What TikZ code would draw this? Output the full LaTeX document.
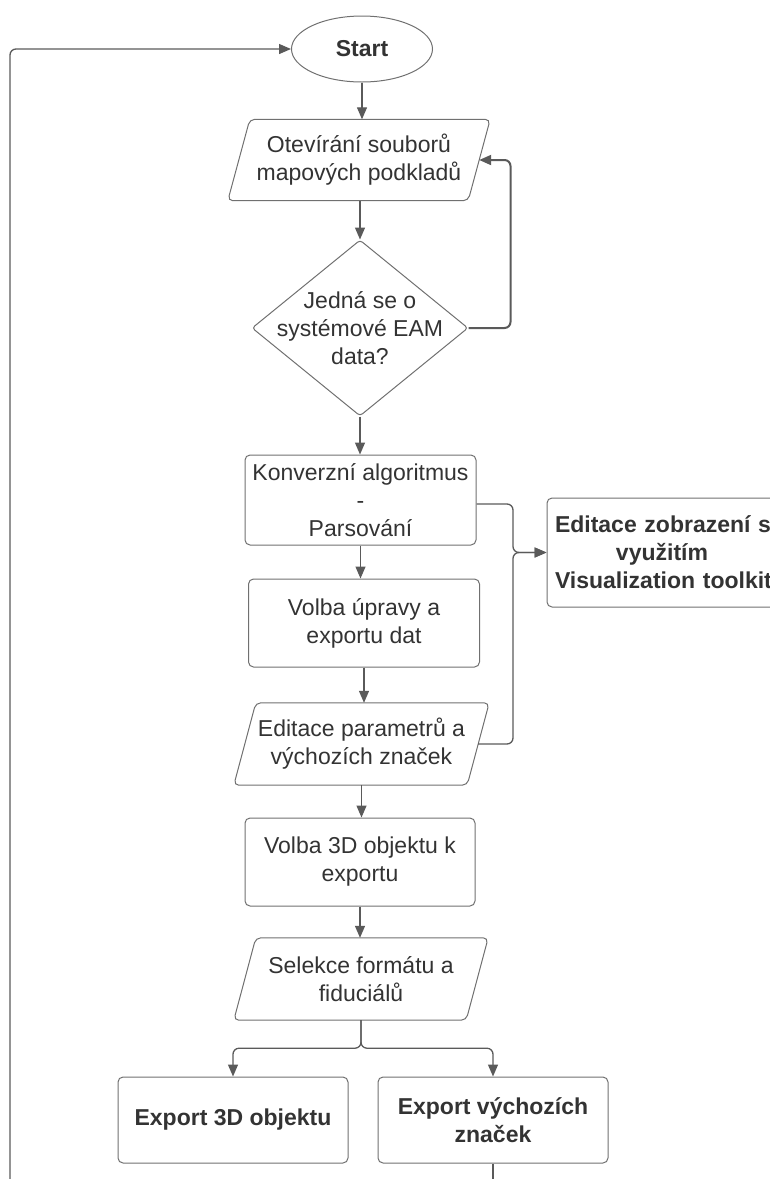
\documentclass[tikz,border=0pt]{standalone}
\usepackage{fontspec}
\setmainfont{Liberation Sans}
\usetikzlibrary{shapes.geometric,arrows.meta,calc}
\definecolor{linec}{HTML}{5A5A5A}
\definecolor{boxc}{HTML}{707070}
\definecolor{txtc}{HTML}{333333}
\begin{document}
\begin{tikzpicture}[x=1pt,y=-1pt,
  every node/.style={font=\fontsize{23}{28}\selectfont, text=txtc},
  proc/.style={draw=boxc, line width=1pt, rounded corners=5pt, rectangle, minimum width=231pt, minimum height=89pt, align=center, inner sep=0pt},
  iobox/.style={rectangle, minimum height=81pt, align=center, inner sep=0pt},
  iob/.style={draw=boxc, line width=1pt, rounded corners=5pt},
  conn/.style={draw=linec, line width=1.3pt, -{Triangle[length=12pt,width=10pt]}},
  plainline/.style={draw=linec, line width=1.3pt},
  bold/.style={font=\fontsize{23}{28}\selectfont\bfseries},
]
\useasboundingbox (0,0) rectangle (770,1179);
\clip (0,0) rectangle (770,1179);

% nodes
\node[ellipse, draw=boxc, line width=1pt, minimum width=141pt, minimum height=66pt, inner sep=0pt, bold] (start) at (362,49) {Start};

\node[iobox, minimum width=240pt] (p1) at (359,160) {Otevírání souborů\\mapových podkladů};
\draw[iob] ([xshift=11pt]p1.north west) -- ([xshift=11pt]p1.north east) -- ([xshift=-11pt]p1.south east) -- ([xshift=-11pt]p1.south west) -- cycle;

\node[diamond, draw=boxc, line width=1pt, minimum width=216pt, minimum height=176pt, inner sep=0pt, rounded corners=3pt] (dec) at (360,328) {};
\node[align=center, inner sep=0pt] (dectext) at (dec.center) {Jedná se o\\systémové EAM\\data?};

\node[proc, minimum height=90pt] (konv) at (360.5,500) {Konverzní algoritmus\\-\\Parsování};

\node[proc, minimum height=88pt] (volba) at (364,623) {Volba úpravy a\\exportu dat};

\node[iobox, minimum width=233pt, minimum height=82pt] (p2) at (361.5,744) {Editace parametrů a\\výchozích značek};
\draw[iob] ([xshift=11pt]p2.north west) -- ([xshift=11pt]p2.north east) -- ([xshift=-11pt]p2.south east) -- ([xshift=-11pt]p2.south west) -- cycle;

\node[proc, minimum width=230pt, minimum height=88pt] (v3d) at (360,862) {Volba 3D objektu k\\exportu};

\node[iobox, minimum width=232pt, minimum height=82pt] (p3) at (361,979) {Selekce formátu a\\fiduciálů};
\draw[iob] ([xshift=11pt]p3.north west) -- ([xshift=11pt]p3.north east) -- ([xshift=-11pt]p3.south east) -- ([xshift=-11pt]p3.south west) -- cycle;

\node[proc, minimum width=230pt, minimum height=86pt, bold] (e1) at (233,1120) {Export 3D objektu};
\node[proc, minimum width=230pt, minimum height=86pt, bold] (e2) at (493,1120) {Export výchozích\\značek};

\node[proc, minimum width=230pt, minimum height=109pt, text width=214pt, bold] (viz) at (662,552.5) {\mbox{Editace zobrazení s}\\využitím\\\mbox{Visualization toolkit}};

% connectors
\draw[conn] (start.south) -- (start.south |- p1.north);
\draw[conn] (dec.north |- p1.south) -- (dec.north);
\draw[conn, line width=2pt, rounded corners=6pt] (dec.east) -- ++(42,0) |- (p1.east);
\draw[conn] (dec.south) -- (dec.south |- konv.north);
\draw[conn] (konv.south) -- (konv.south |- volba.north);
\draw[conn] (volba.south) -- (volba.south |- p2.north);
\draw[conn] (p2.south) -- (p2.south |- v3d.north);
\draw[conn] (v3d.south) -- (v3d.south |- p3.north);

\coordinate (jn) at (513,552.5);
\draw[conn, rounded corners=6pt] ([yshift=-4pt]konv.east) -| (jn) -- (viz.west);
\draw[conn, rounded corners=6pt] (p2.east) -| (jn) -- (viz.west);

\draw[conn, rounded corners=6pt] (p3.south) -- ++(0,28) -| (e1.north);
\draw[conn, rounded corners=6pt] (p3.south) -- ++(0,28) -| (e2.north);

\coordinate (lb) at (10,1179);
\draw[conn, rounded corners=6pt] (lb) |- (start.west);
\coordinate (eb) at (493,1179);
\draw[plainline] (e2.south) -- (eb);
\end{tikzpicture}
\end{document}
